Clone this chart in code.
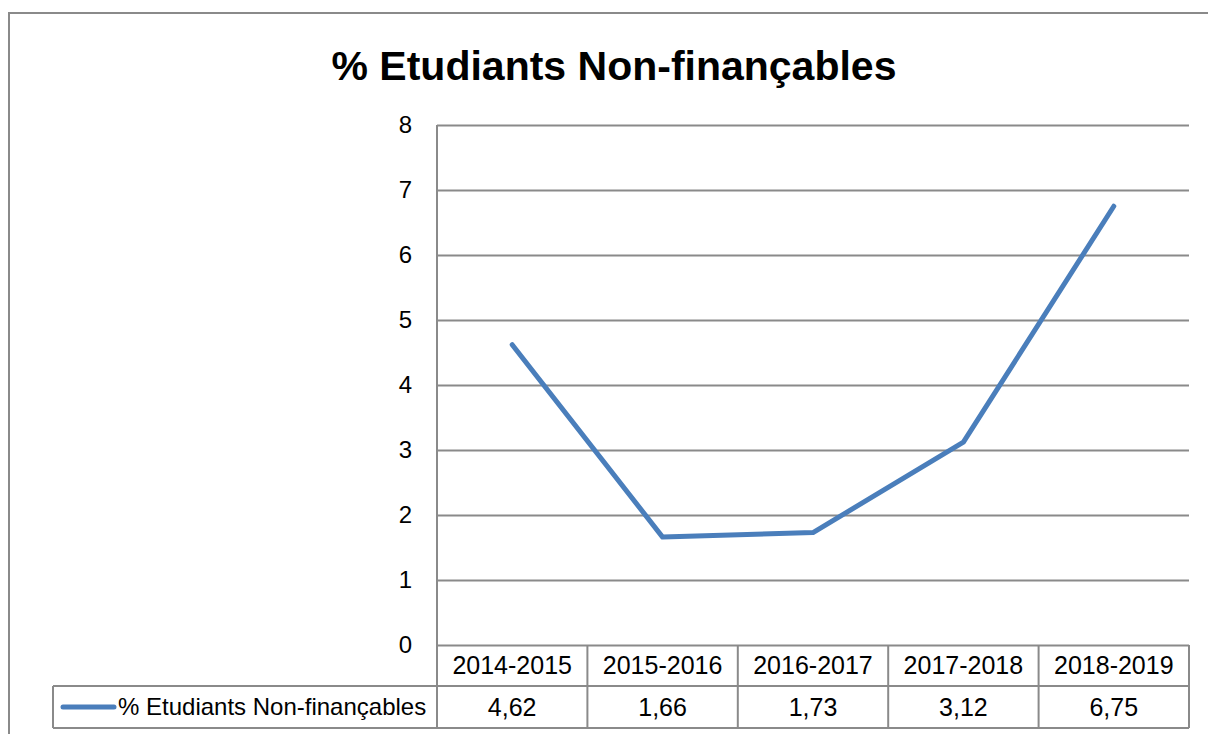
<!DOCTYPE html>
<html>
<head>
<meta charset="utf-8">
<script src="https://cdn.jsdelivr.net/npm/d3@7"></script>
<style>
  body { margin: 0; background: #fff; }
  text { font-family: "Liberation Sans", Arial, sans-serif; fill: #000; }
</style>
</head>
<body>
<div id="chart"></div>
<script>
var width = 1208;
var height = 734;

var title = "% Etudiants Non-finançables";
var seriesName = "% Etudiants Non-finançables";
var years = ["2014-2015", "2015-2016", "2016-2017", "2017-2018", "2018-2019"];
var values = [4.62, 1.66, 1.73, 3.12, 6.75];
var yTicks = [0, 1, 2, 3, 4, 5, 6, 7, 8];

var gridColor = "#8a8a8a";
var lineColor = "#4a7ebb";

var svg = d3
  .select("#chart")
  .append("svg")
  .attr("width", width)
  .attr("height", height);

// outer chart border (runs off the page on right and bottom)
svg
  .append("rect")
  .attr("x", 9)
  .attr("y", 13)
  .attr("width", width + 20)
  .attr("height", height + 20)
  .attr("fill", "none")
  .attr("stroke", gridColor)
  .attr("stroke-width", 2);

svg
  .append("text")
  .attr("x", 614)
  .attr("y", 80)
  .style("text-anchor", "middle")
  .style("font-weight", "bold")
  .style("font-size", "41px")
  .text(title);

// scales
var xScale = d3
  .scaleBand()
  .domain(years)
  .range([437, 1189]);
var yScale = d3
  .scaleLinear()
  .domain([0, 8])
  .range([645, 125]);

// gridlines + tick labels
var yAxis = d3
  .axisLeft(yScale)
  .tickValues(yTicks)
  .tickSize(-(1189 - 437))
  .tickPadding(25)
  .tickFormat(d3.format("d"));

var yg = svg
  .append("g")
  .attr("transform", "translate(437,0)")
  .call(yAxis);
yg.select(".domain").remove();
yg.selectAll(".tick line")
  .attr("stroke", gridColor)
  .attr("stroke-width", 2);
yg.selectAll(".tick text")
  .style("font-size", "24px")
  .style("font-family", "Liberation Sans, Arial, sans-serif")
  .attr("fill", "#000");

// data table
var rowTop = 645, rowMid = 686, rowBot = 728, legendLeft = 53;
var table = svg.append("g").attr("stroke", gridColor).attr("stroke-width", 2);

table.append("line").attr("x1", 437).attr("x2", 437).attr("y1", 125).attr("y2", rowBot);
table.append("line").attr("x1", legendLeft).attr("x2", 1189).attr("y1", rowMid).attr("y2", rowMid);
table.append("line").attr("x1", legendLeft).attr("x2", 1189).attr("y1", rowBot).attr("y2", rowBot);
table.append("line").attr("x1", legendLeft).attr("x2", legendLeft).attr("y1", rowMid).attr("y2", rowBot);

table
  .selectAll(".col")
  .data(years)
  .enter()
  .append("line")
  .attr("x1", function(d) { return xScale(d) + xScale.bandwidth(); })
  .attr("x2", function(d) { return xScale(d) + xScale.bandwidth(); })
  .attr("y1", rowTop)
  .attr("y2", rowBot);

svg
  .selectAll(".year")
  .data(years)
  .enter()
  .append("text")
  .attr("x", function(d) { return xScale(d) + xScale.bandwidth() / 2; })
  .attr("y", 674)
  .style("text-anchor", "middle")
  .style("font-size", "25px")
  .text(function(d) { return d; });

svg
  .selectAll(".val")
  .data(values)
  .enter()
  .append("text")
  .attr("x", function(d, i) { return xScale(years[i]) + xScale.bandwidth() / 2; })
  .attr("y", 716)
  .style("text-anchor", "middle")
  .style("font-size", "25px")
  .text(function(d) { return d.toFixed(2).replace(".", ","); });

// legend key
svg
  .append("line")
  .attr("x1", 63)
  .attr("x2", 114)
  .attr("y1", 707)
  .attr("y2", 707)
  .attr("stroke", lineColor)
  .attr("stroke-width", 5)
  .attr("stroke-linecap", "round");

svg
  .append("text")
  .attr("x", 118)
  .attr("y", 715)
  .style("font-size", "24px")
  .text(seriesName);

// the series line
var line = d3
  .line()
  .x(function(d, i) { return xScale(years[i]) + xScale.bandwidth() / 2; })
  .y(function(d) { return yScale(d); });

svg
  .append("path")
  .datum(values)
  .attr("d", line)
  .attr("fill", "none")
  .attr("stroke", lineColor)
  .attr("stroke-width", 5)
  .attr("stroke-linecap", "round")
  .attr("stroke-linejoin", "round");
</script>
</body>
</html>
